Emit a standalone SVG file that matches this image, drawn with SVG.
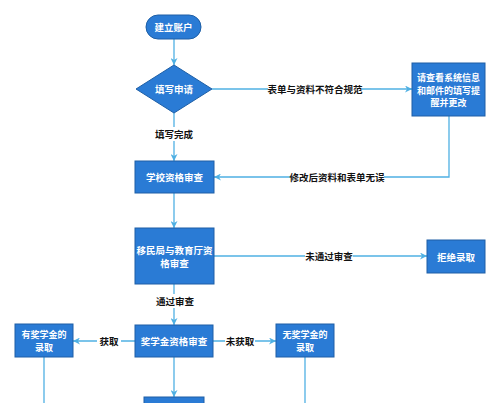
<svg xmlns="http://www.w3.org/2000/svg" width="500" height="403" viewBox="0 0 500 403">
<style>
.box{fill:#2a7bd5;stroke:#1e5fa6;stroke-width:1}
.nt{fill:#fff;font-family:"Noto Sans CJK SC","Liberation Sans",sans-serif;font-size:9.5px;font-weight:bold;text-anchor:middle;dominant-baseline:central}
.sm{font-size:9px}
.ln{fill:none;stroke:#4fb0e3;stroke-width:1.3}
.lb{fill:#111;font-family:"Noto Sans CJK SC","Liberation Sans",sans-serif;font-size:9.5px;font-weight:bold;text-anchor:middle;dominant-baseline:central}
.bg{fill:#fff}
</style>
<defs>
<marker id="ah" viewBox="0 0 10 10" refX="10" refY="5" markerWidth="7" markerHeight="7" markerUnits="userSpaceOnUse" orient="auto">
<path d="M0,0 L10,5 L0,10 L3,5 z" fill="#4fb0e3"/>
</marker>
</defs>
<rect width="500" height="403" fill="#fff"/>
<g id="connectors">
<path class="ln" d="M174,39 V65" marker-end="url(#ah)"/>
<path class="ln" d="M174,113 V161" marker-end="url(#ah)"/>
<path class="ln" d="M212,89 H412" marker-end="url(#ah)"/>
<path class="ln" d="M449,116 V177 H214" marker-end="url(#ah)"/>
<path class="ln" d="M174,193 V228" marker-end="url(#ah)"/>
<path class="ln" d="M214,256 H427" marker-end="url(#ah)"/>
<path class="ln" d="M174,284 V325" marker-end="url(#ah)"/>
<path class="ln" d="M135,341 H73" marker-end="url(#ah)"/>
<path class="ln" d="M213,341 H276" marker-end="url(#ah)"/>
<path class="ln" d="M174,357 V397" marker-end="url(#ah)"/>
<path class="ln" d="M44,357 V403"/>
<path class="ln" d="M305,357 V403"/>
<rect class="bg" x="153" y="127" width="42" height="14"/>
<text class="lb" x="174" y="134">填写完成</text>
<rect class="bg" x="268" y="82" width="94" height="14"/>
<text class="lb" x="315" y="89">表单与资料不符合规范</text>
<rect class="bg" x="290" y="170" width="94" height="14"/>
<text class="lb" x="337" y="177">修改后资料和表单无误</text>
<rect class="bg" x="305" y="249" width="48" height="14"/>
<text class="lb" x="329" y="256">未通过审查</text>
<rect class="bg" x="155" y="294" width="40" height="14"/>
<text class="lb" x="175" y="301">通过审查</text>
<rect class="bg" x="97" y="334" width="24" height="14"/>
<text class="lb" x="109" y="341">获取</text>
<rect class="bg" x="225" y="334" width="30" height="14"/>
<text class="lb" x="240" y="341">未获取</text>
</g>
<g id="start">
<rect class="box" x="146" y="15" width="55" height="24" rx="12"/>
<text class="nt" x="173.5" y="27">建立账户</text>
</g>
<g id="fill">
<polygon class="box" points="174,65 212,89 174,113 136,89"/>
<text class="nt" x="174" y="89">填写申请</text>
</g>
<g id="remind">
<rect class="box" x="412" y="63" width="73" height="53"/>
<text class="nt sm" x="448.5" y="77.5">请查看系统信息</text>
<text class="nt sm" x="448.5" y="90">和邮件的填写提</text>
<text class="nt sm" x="448.5" y="102.5">醒并更改</text>
</g>
<g id="school">
<rect class="box" x="135" y="161" width="79" height="32"/>
<text class="nt" x="174.5" y="177">学校资格审查</text>
</g>
<g id="immigration">
<rect class="box" x="135" y="228" width="79" height="56"/>
<text class="nt" x="174.5" y="249.5">移民局与教育厅资</text>
<text class="nt" x="174.5" y="263">格审查</text>
</g>
<g id="reject">
<rect class="box" x="427" y="240" width="58" height="33"/>
<text class="nt" x="456" y="256.5">拒绝录取</text>
</g>
<g id="scholarship">
<rect class="box" x="135" y="325" width="78" height="32"/>
<text class="nt" x="174" y="341">奖学金资格审查</text>
</g>
<g id="with">
<rect class="box" x="15" y="324" width="58" height="33"/>
<text class="nt sm" x="44" y="334">有奖学金的</text>
<text class="nt sm" x="44" y="347">录取</text>
</g>
<g id="without">
<rect class="box" x="276" y="324" width="58" height="33"/>
<text class="nt sm" x="305" y="334">无奖学金的</text>
<text class="nt sm" x="305" y="347">录取</text>
</g>
<g id="bottom">
<rect class="box" x="144" y="397" width="60" height="12"/>
</g>
</svg>
